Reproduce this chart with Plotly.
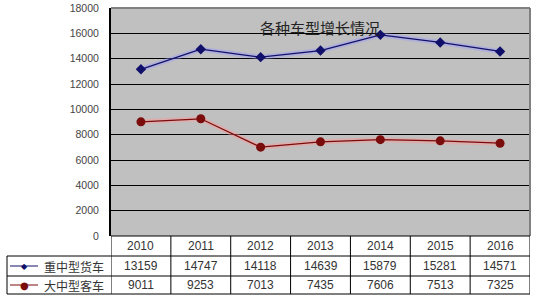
import plotly.graph_objects as go

years = ["2010", "2011", "2012", "2013", "2014", "2015", "2016"]
series_names = ["重中型货车", "大中型客车"]
trucks = [13159, 14747, 14118, 14639, 15879, 15281, 14571]
buses = [9011, 9253, 7013, 7435, 7606, 7513, 7325]
title_text = "各种车型增长情况"
y_ticks = [0, 2000, 4000, 6000, 8000, 10000, 12000, 14000, 16000, 18000]

W, H = 538, 302
def px(x):
    return x / W
def py(y):
    return 1 - y / H

PL, PR, PT, PB = 111, 530, 8, 236
ROWS = [236, 256, 276, 294]
LEFT = 7

BLUE = "#10106a"
RED = "#7a0c0c"
TXT = "#333333"
CJK = "Noto Sans CJK SC"

fig = go.Figure()
xs = list(range(len(years)))

# glow
fig.add_trace(go.Scatter(x=xs, y=trucks, mode="lines",
                         line=dict(color="rgba(150,150,255,0.4)", width=5),
                         hoverinfo="skip", showlegend=False))
fig.add_trace(go.Scatter(x=xs, y=buses, mode="lines",
                         line=dict(color="rgba(255,150,150,0.45)", width=5),
                         hoverinfo="skip", showlegend=False))
fig.add_trace(go.Scatter(x=xs, y=trucks, mode="lines+markers", name=series_names[0],
                         line=dict(color=BLUE, width=1.2),
                         marker=dict(symbol="diamond", size=8, color=BLUE),
                         showlegend=False))
fig.add_trace(go.Scatter(x=xs, y=buses, mode="lines+markers", name=series_names[1],
                         line=dict(color=RED, width=1.2),
                         marker=dict(symbol="circle", size=9, color=RED),
                         showlegend=False))

shapes = []
annotations = []

# plot border top/right (gray)
shapes.append(dict(type="line", xref="paper", yref="paper",
                   x0=px(PL), x1=px(PR), y0=py(PT), y1=py(PT),
                   line=dict(color="#808080", width=2)))
shapes.append(dict(type="line", xref="paper", yref="paper",
                   x0=px(PR), x1=px(PR), y0=py(PT), y1=py(PB),
                   line=dict(color="#808080", width=2)))

# table horizontal lines
shapes.append(dict(type="line", xref="paper", yref="paper",
                   x0=px(PL), x1=px(PR), y0=py(ROWS[0]), y1=py(ROWS[0]),
                   line=dict(color="black", width=1)))
for r in ROWS[1:]:
    shapes.append(dict(type="line", xref="paper", yref="paper",
                       x0=px(LEFT), x1=px(PR), y0=py(r), y1=py(r),
                       line=dict(color="black", width=1)))
# vertical lines
for i in range(len(years) + 1):
    shapes.append(dict(type="line", xref="x", yref="paper",
                       x0=i - 0.5, x1=i - 0.5, y0=py(ROWS[0]), y1=py(ROWS[-1]),
                       line=dict(color="black", width=1)))
shapes.append(dict(type="line", xref="paper", yref="paper",
                   x0=px(LEFT), x1=px(LEFT), y0=py(ROWS[1]), y1=py(ROWS[-1]),
                   line=dict(color="black", width=1)))

def ann(x, y, text, size, color=TXT, family="Liberation Sans", xref="paper", xanchor="center"):
    annotations.append(dict(x=x, y=y, xref=xref, yref="paper", text=text, showarrow=False,
                            xanchor=xanchor, yanchor="middle",
                            font=dict(family=family, size=size, color=color)))

# table text
for i, yr in enumerate(years):
    ann(i, py((ROWS[0] + ROWS[1]) / 2), yr, 12, xref="x")
    ann(i, py((ROWS[1] + ROWS[2]) / 2), str(trucks[i]), 12, xref="x")
    ann(i, py((ROWS[2] + ROWS[3]) / 2), str(buses[i]), 12, xref="x")

# legend keys in table
for k, (name, col, sym) in enumerate([(series_names[0], BLUE, "◆"), (series_names[1], RED, "●")]):
    yc = (ROWS[1 + k] + ROWS[2 + k]) / 2
    shapes.append(dict(type="line", xref="paper", yref="paper",
                       x0=px(10), x1=px(38), y0=py(yc), y1=py(yc),
                       line=dict(color=col, width=1)))
    ann(px(24), py(yc), sym, 8 if k == 0 else 10, color=col, family="DejaVu Sans")
    ann(px(42), py(yc), name, 12, family=CJK, xanchor="left")

# title
ann(px(320), py(27), title_text, 15, color="#222222", family=CJK)

fig.update_layout(
    width=W, height=H, autosize=False,
    margin=dict(l=0, r=0, t=0, b=0, pad=0),
    paper_bgcolor="white",
    plot_bgcolor="#c0c0c0",
    shapes=shapes,
    annotations=annotations,
    showlegend=False,
    xaxis=dict(domain=[px(PL), px(PR)], range=[-0.5, len(years) - 0.5],
               showticklabels=False, showgrid=False, zeroline=False,
               automargin=False, fixedrange=True),
    yaxis=dict(domain=[py(PB), py(PT)], range=[0, 18000],
               tickvals=y_ticks, ticktext=[str(v) for v in y_ticks],
               showgrid=True, gridcolor="black", gridwidth=1,
               zeroline=False, showline=True, linecolor="black", linewidth=2,
               ticks="", ticklabelstandoff=8, automargin=False,
               tickfont=dict(family="Liberation Sans", size=10.5, color="#444444")),
)

fig.write_html("out.html")
